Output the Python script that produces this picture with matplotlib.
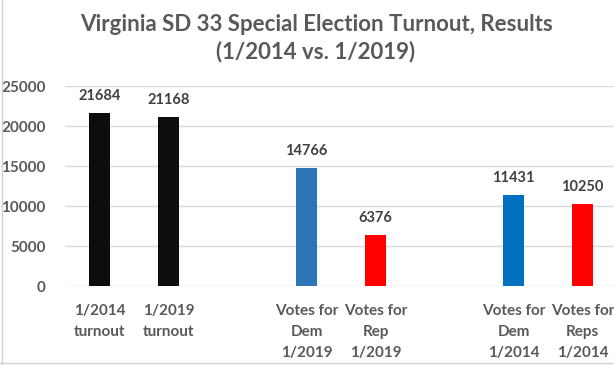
import numpy as np
import matplotlib
matplotlib.use("Agg")
from matplotlib import pyplot as plt
from matplotlib.lines import Line2D

# Dados (lacunas entre grupos como categorias vazias)
categorias = ['1/2014\nturnout', '1/2019\nturnout', '',
              'Votes for\nDem\n1/2019', 'Votes for\nRep\n1/2019', '',
              'Votes for\nDem\n1/2014', 'Votes for\nReps\n1/2014']
votos = [21684, 21168, np.nan, 14766, 6376, np.nan, 11431, 10250]
cores = ['#0D0D0D', '#0D0D0D', 'none', '#2E75B6', '#FF0000', 'none', '#0070C0', '#FF0000']
titulo = 'Virginia SD 33 Special Election Turnout, Results\n(1/2014 vs. 1/2019)'

plt.rcParams['font.family'] = ['Lato', 'DejaVu Sans']

W, H = 614, 365
fig = plt.figure(figsize=(W / 100, H / 100), dpi=100)
ax = fig.add_axes([65 / W, 1 - 286 / H, (W - 65) / W, 200 / H])

x = np.arange(len(categorias))
ax.bar(x, np.nan_to_num(votos), width=0.31, color=cores, zorder=3)

for xi, v in zip(x, votos):
    if np.isnan(v):
        continue
    ax.annotate(f'{int(v)}', (xi, v), xytext=(0, 7), textcoords='offset points',
                ha='center', va='bottom', fontsize=10.5, fontweight='bold', color='#404040')

ax.set_ylim(0, 25000)
ax.set_xlim(-0.5, -0.5 + (W - 65) / 69)
ax.set_yticks(np.arange(0, 25001, 5000))
ax.set_xticks(x)
ax.set_xticklabels(categorias, fontsize=11, fontweight='bold', color='#595959',
                   linespacing=1.65)
for t in ax.get_yticklabels():
    t.set_fontweight('bold')
    t.set_fontsize(11)
    t.set_color('#595959')
ax.tick_params(axis='both', length=0)
ax.tick_params(axis='y', pad=14)
ax.tick_params(axis='x', pad=13)
ax.grid(axis='y', color='#D9D9D9', linewidth=1, zorder=0)
for s in ax.spines.values():
    s.set_visible(False)

# o gráfico original continua além da borda direita, por isso o título fica deslocado
fig.text(316 / W, 1 - 38.5 / H, titulo, ha='center', va='center', fontsize=16,
         fontweight='bold', color='#595959', linespacing=1.3)

# bordas da planilha
fig.add_artist(Line2D([2 / W, 2 / W], [0, 1], color='#D0D0D0', linewidth=1))
fig.add_artist(Line2D([0, 1], [1 - 363 / H, 1 - 363 / H], color='#D0D0D0', linewidth=1))

fig.savefig('out.png', dpi=100)
